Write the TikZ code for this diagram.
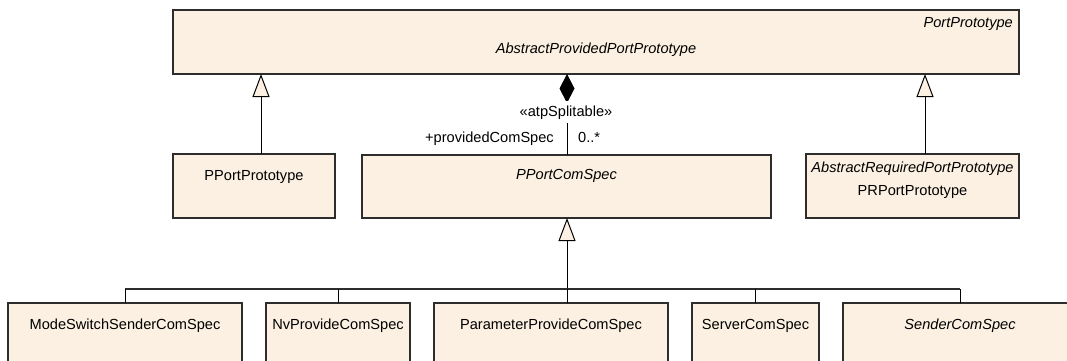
\documentclass[tikz,border=0pt]{standalone}
\usepackage{fontspec}
\setmainfont{Liberation Sans}
\usetikzlibrary{arrows.meta}
\definecolor{umlfill}{RGB}{251,240,225}
\definecolor{umledge}{RGB}{45,45,45}
\begin{document}
\begin{tikzpicture}[x=1pt,y=-1pt,
  cls/.style={draw=umledge,fill=umlfill,line width=1.3pt,inner sep=0pt,outer sep=0pt,anchor=north west},
  txt/.style={inner sep=0pt,font=\fontsize{14.6}{17.5}\selectfont,anchor=base},
  itxt/.style={txt,font=\fontsize{14.6}{17.5}\selectfont\itshape},
  conn/.style={draw=black,line width=1pt},
  gen/.style={conn,-{Triangle[length=23pt,width=17pt,fill=umlfill]}},
  comp/.style={conn,-{Diamond[length=29pt,width=15pt]}},
  barline/.style={draw=umledge,line width=1.5pt}]
\useasboundingbox[fill=white] (0,0) rectangle (1067,361);
% classes
\node[cls,minimum width=846pt,minimum height=64pt] (top) at (173,10) {};
\node[cls,minimum width=162pt,minimum height=64pt] (ppp) at (173,154) {};
\node[cls,minimum width=409pt,minimum height=63pt] (pcs) at (362,155) {};
\node[cls,minimum width=213pt,minimum height=64pt] (prp) at (806,154) {};
\node[cls,minimum width=234pt,minimum height=80pt] (msc) at (8,303) {};
\node[cls,minimum width=144pt,minimum height=80pt] (nv) at (266,303) {};
\node[cls,minimum width=234pt,minimum height=80pt] (par) at (434,303) {};
\node[cls,minimum width=127pt,minimum height=80pt] (srv) at (692,303) {};
\node[cls,minimum width=234pt,minimum height=80pt] (snd) at (843,303) {};
% class texts
\node[itxt] (topname) at (596,53) {AbstractProvidedPortPrototype};
\node[itxt,anchor=base east] (topsuper) at (1013,28) {PortPrototype};
\node[txt] (pppname) at (254,180) {PPortPrototype};
\node[itxt] (pcsname) at (566.5,179) {PPortComSpec};
\node[itxt] (prpsuper) at (912.5,172) {AbstractRequiredPortPrototype};
\node[txt] (prpname) at (912.5,195) {PRPortPrototype};
\node[txt] (mscname) at (125,329) {ModeSwitchSenderComSpec};
\node[txt] (nvname) at (338,329) {NvProvideComSpec};
\node[txt] (parname) at (551,329) {ParameterProvideComSpec};
\node[txt] (srvname) at (755.5,329) {ServerComSpec};
\node[itxt] (sndname) at (960,329) {SenderComSpec};
% connector positions
\coordinate (sL) at (261,0);
\coordinate (sR) at (925,0);
\coordinate (sC) at (567,0);
\coordinate (bar) at (0,289);
% generalizations to top
\draw[gen] (ppp.north -| sL) -- (top.south -| sL);
\draw[gen] (prp.north -| sR) -- (top.south -| sR);
% composition
\draw[comp] (pcs.north -| sC) -- (top.south -| sC);
\node[txt,fill=white,inner xsep=1pt,inner ysep=4pt] (stereo) at (566,116) {«atpSplitable»};
\node[txt,anchor=base east] (role) at (554,142) {+providedComSpec};
\node[txt,anchor=base west] (mult) at (578,142) {0..*};
% generalization tree to PPortComSpec
\draw[gen] (bar -| sC) -- (pcs.south -| sC);
\draw[barline] (msc.north |- bar) -- (snd.north |- bar);
\draw[conn] (msc.north) -- (msc.north |- bar);
\draw[conn] (nv.north) -- (nv.north |- bar);
\draw[conn] (par.north -| sC) -- (bar -| sC);
\draw[conn] (srv.north) -- (srv.north |- bar);
\draw[conn] (snd.north) -- (snd.north |- bar);
\end{tikzpicture}
\end{document}
